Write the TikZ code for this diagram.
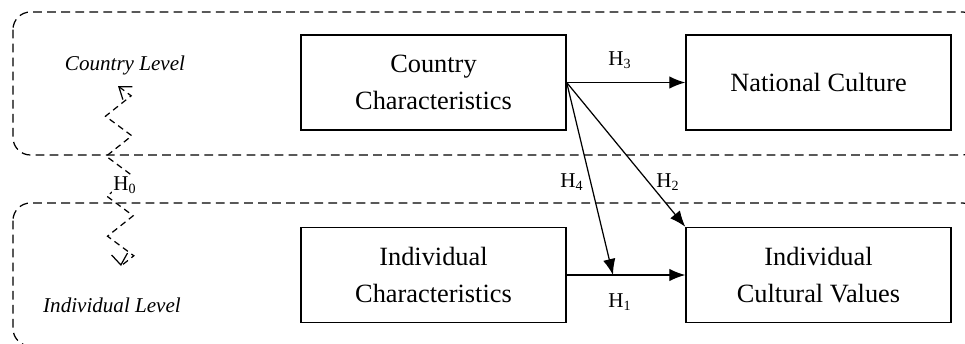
\documentclass[tikz,border=0pt]{standalone}
\usepackage{fontspec}
\setmainfont{Liberation Serif}
\usetikzlibrary{shapes, arrows, arrows.meta, decorations.pathmorphing}

\begin{document}
\begin{tikzpicture}
		\tikzstyle{block} = [rectangle, draw, line width=0.8pt, text centered, align=center, minimum width=5.3cm, minimum height=1.9cm, font=\fontsize{15}{21}\selectfont]
		\tikzstyle{level} = [draw, dash pattern=on 5pt off 3pt, line width=0.7pt, rounded corners=0.35cm]
		\tikzstyle{connector} = [draw, line width=0.7pt, -{Latex[length=0.32cm,width=0.25cm]}]
		\tikzstyle{hyp} = [font=\fontsize{12}{14}\selectfont]
		\tikzstyle{wavy} = [draw, line width=0.7pt, dash pattern=on 3.5pt off 2.5pt, {Straight Barb[length=0.22cm,width=0.32cm]}-{Straight Barb[length=0.22cm,width=0.32cm]}, decorate, decoration={zigzag, segment length=0.8cm, amplitude=0.26cm}]
		\useasboundingbox (0,0) rectangle (19.3,-6.86);
		\fill [white] (0,0) rectangle (19.3,-6.86);
		% level frames
		\path [level] (0.26,-0.24) rectangle (19.6,-3.1);
		\path [level] (0.26,-4.06) rectangle (19.6,-6.92);
		\node [hyp, font=\fontsize{12}{14}\selectfont\itshape] at (2.5,-1.3) (clevel) {Country Level};
		\node [hyp, font=\fontsize{12}{14}\selectfont\itshape] at (2.24,-6.1) (ilevel) {Individual Level};
		\coordinate (h0top) at (2.36,-1.72);
		\coordinate (h0bot) at (2.42,-5.32);
		\path [wavy] (h0top) -- (h0bot);
		\node [hyp, fill=white, inner sep=1pt] at (2.5,-3.7) (h0) {H\textsubscript{0}};
		% boxes
		\node [block] at (8.67,-1.65) (cchar) {Country\\Characteristics};
		\node [block] at (16.37,-1.65) (ncult) {National Culture};
		\node [block] at (8.67,-5.5) (ichar) {Individual\\Characteristics};
		\node [block] at (16.37,-5.5) (icval) {Individual\\Cultural Values};
		\coordinate (h4end) at (12.26,-5.5);
		\path [connector] (cchar.east) -- (ncult.west);
		\path [connector] (cchar.east) -- (icval.north west);
		\path [connector] (cchar.east) -- (h4end);
		\path [connector] (ichar.east) -- (icval.west);
		\node [hyp] at (12.4,-1.2) (h3) {H\textsubscript{3}};
		\node [hyp] at (11.44,-3.64) (h4) {H\textsubscript{4}};
		\node [hyp] at (13.36,-3.64) (h2) {H\textsubscript{2}};
		\node [hyp] at (12.4,-6.04) (h1) {H\textsubscript{1}};
	\end{tikzpicture}
\end{document}
